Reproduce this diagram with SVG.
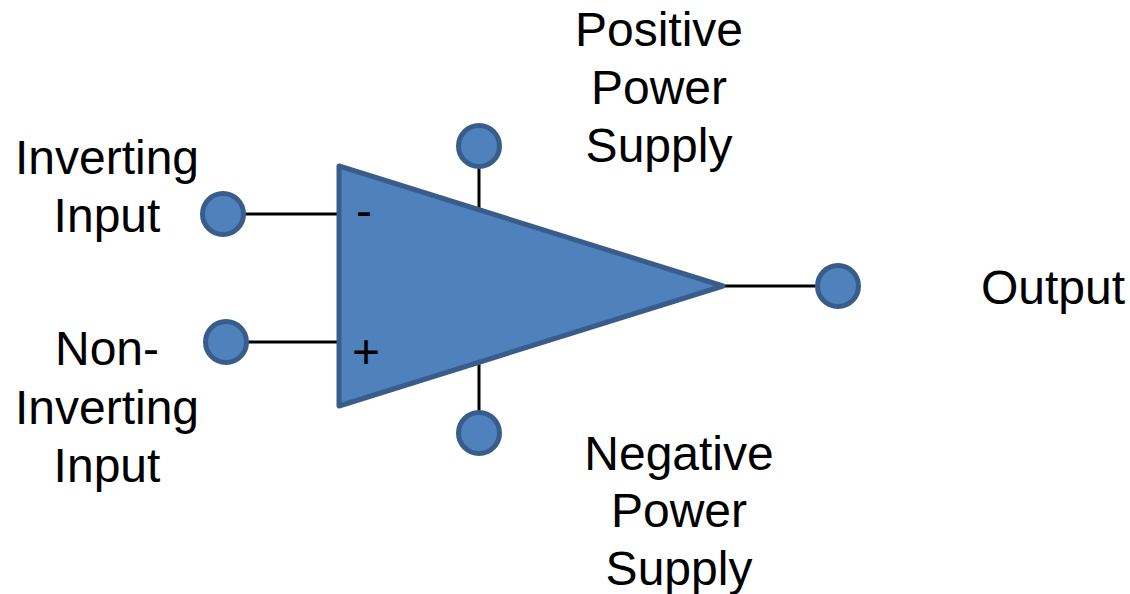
<svg xmlns="http://www.w3.org/2000/svg" width="1130" height="594" viewBox="0 0 1130 594">
<style>
.n{fill:#4f81bd;stroke:#385d8a;stroke-width:5;stroke-linejoin:round}
.c{stroke:#000;stroke-width:3;fill:none}
text{font-family:"Liberation Sans",Arial,sans-serif;font-size:48px;fill:#000;text-anchor:middle}
</style>
<rect width="1130" height="594" fill="#fff"/>
<g id="connectors">
<line class="c" x1="245" y1="214" x2="339" y2="214"/>
<line class="c" x1="247" y1="342" x2="339" y2="342"/>
<line class="c" x1="479" y1="167" x2="479" y2="210"/>
<line class="c" x1="479" y1="362" x2="479" y2="411"/>
<line class="c" x1="724" y1="286" x2="816" y2="286"/>
</g>
<g id="opamp"><polygon class="n" points="339,166 723,286 339,406"/>
<text x="364" y="227">-</text>
<text x="366" y="368">+</text></g>
<g id="inverting"><circle class="n" cx="223" cy="214" r="20.5"/></g>
<g id="noninverting"><circle class="n" cx="226" cy="342" r="20.5"/></g>
<g id="positive"><circle class="n" cx="479" cy="146" r="20.5"/></g>
<g id="negative"><circle class="n" cx="479" cy="433" r="20.5"/></g>
<g id="output"><circle class="n" cx="838" cy="286" r="20.5"/></g>
<g id="labels">
<text x="107" y="174">Inverting</text>
<text x="107" y="232">Input</text>
<text x="107" y="365">Non-</text>
<text x="107" y="424">Inverting</text>
<text x="107" y="482">Input</text>
<text x="659" y="46">Positive</text>
<text x="659" y="104">Power</text>
<text x="659" y="162">Supply</text>
<text x="679" y="470">Negative</text>
<text x="679" y="527">Power</text>
<text x="679" y="585">Supply</text>
<text x="1053" y="304">Output</text>
</g>
</svg>
